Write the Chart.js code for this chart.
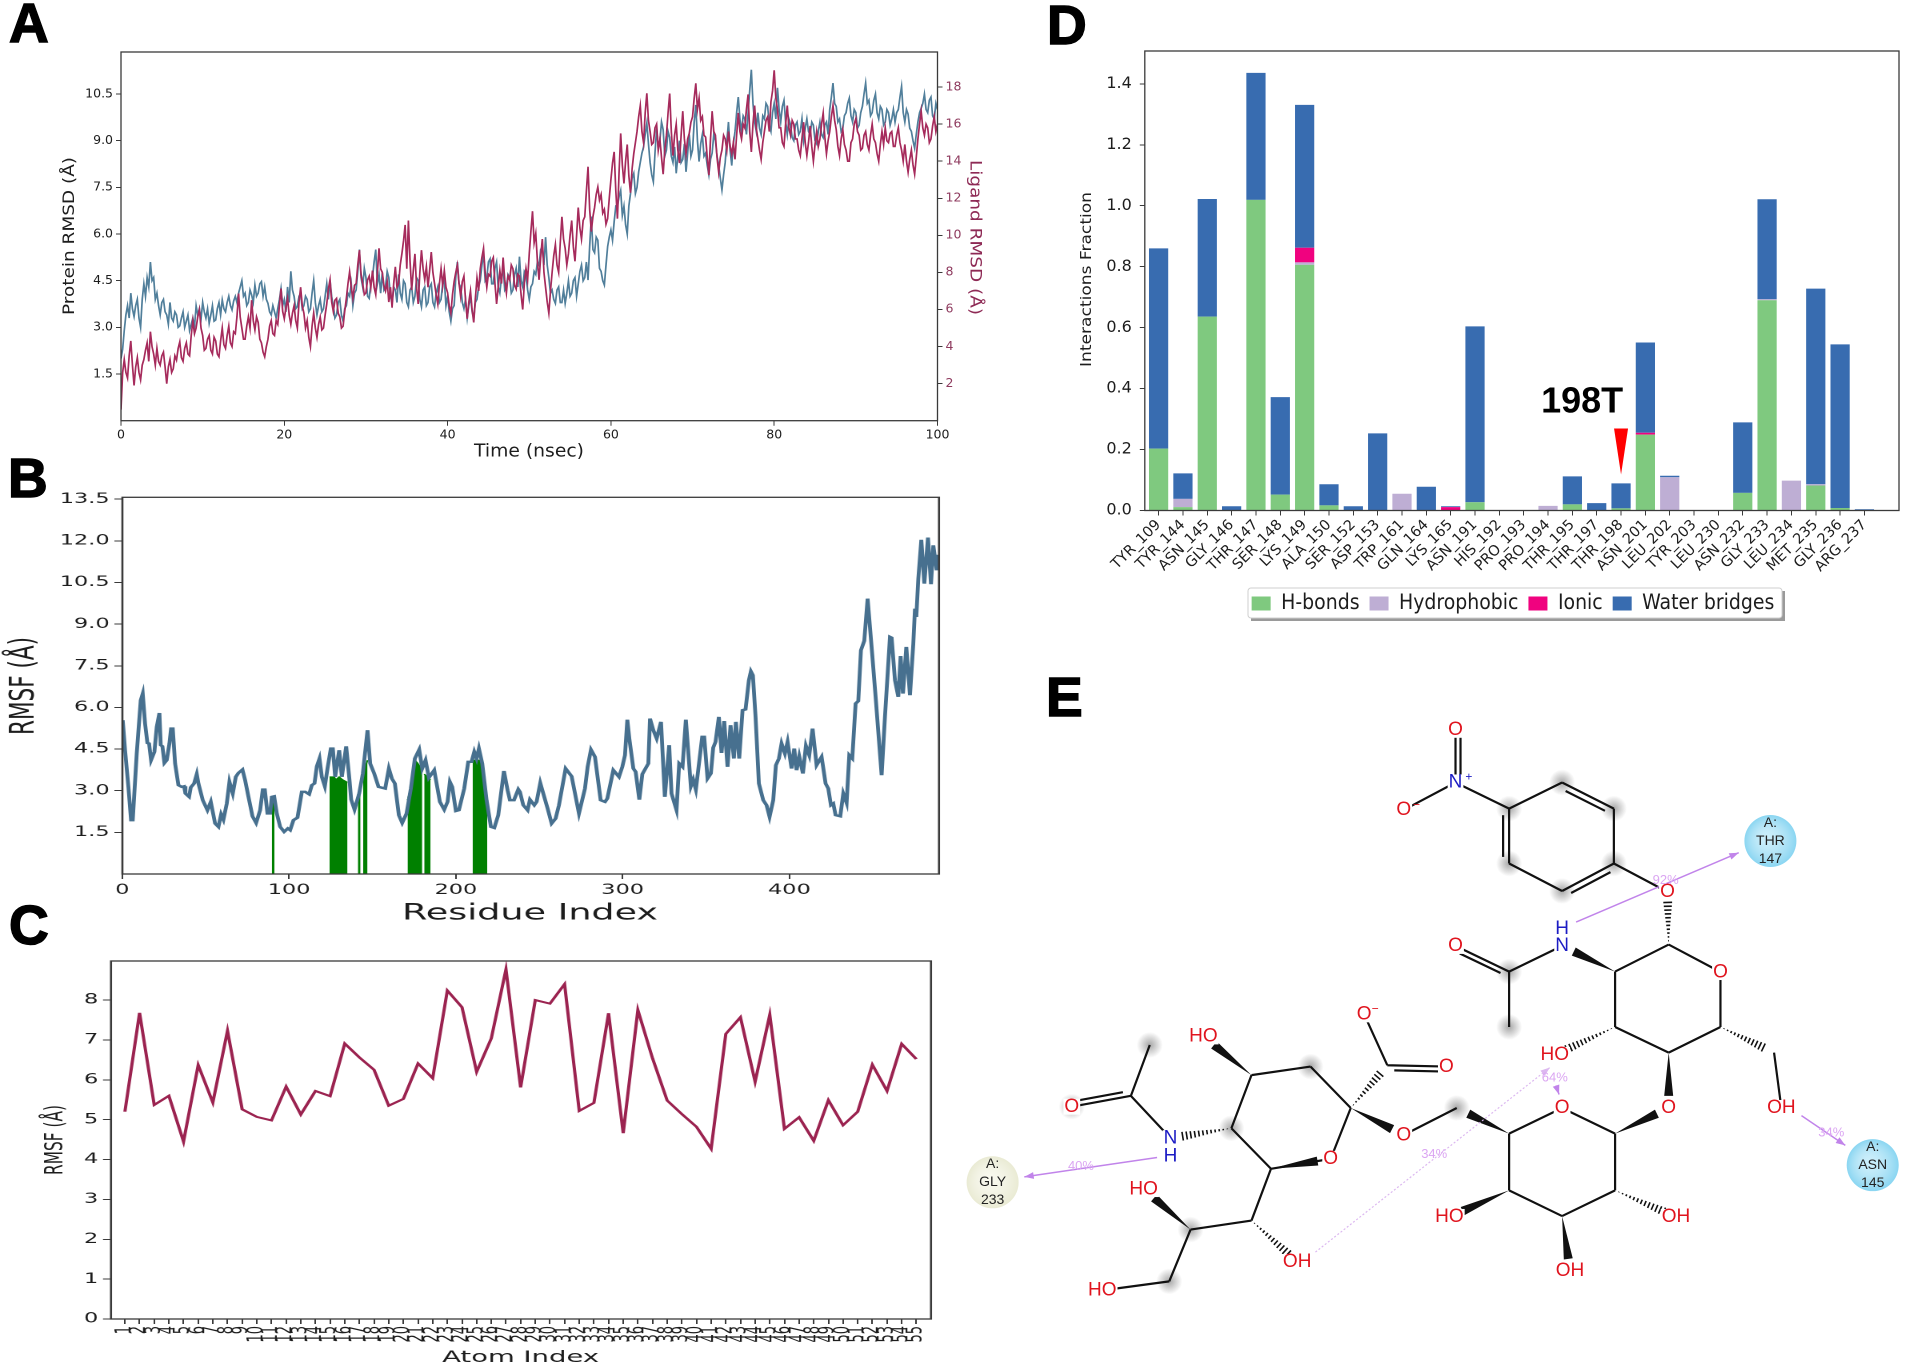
<!DOCTYPE html>
<html>
<head>
<meta charset="utf-8">
<title>RMSD, RMSF and ligand contacts</title>
<script src="https://cdn.jsdelivr.net/npm/chart.js@4"></script>
<style>
  html, body { margin: 0; background: #fff; width: 1905px; height: 1366px; overflow: hidden; }
  .panel { position: absolute; transform-origin: 0 0; }
  .letter { position: absolute; font: bold 55px/1 "Liberation Sans", sans-serif; color: #000; -webkit-text-stroke: 1.5px #000; }
</style>
</head>
<body>
<div class="letter" style="left:9px;top:-4px">A</div>
<div class="letter" style="left:8px;top:451px">B</div>
<div class="letter" style="left:9px;top:898px">C</div>
<div class="letter" style="left:1047px;top:-2px">D</div>
<div class="letter" style="left:1046px;top:670px">E</div>
<script>
// Panel A: one sample every 0.2 ns
const rmsdStepNs = 0.2;
const proteinRmsd = [
  2.0,2.3,2.9,3.4,3.7,3.3,4.1,3.6,3.35,3.7,3.9,3.3,3.0,3.9,4.4,4.0,4.6,4.3,5.1,4.5,
  4.6,3.9,4.1,3.7,3.4,3.8,3.9,3.5,3.4,3.1,3.8,3.3,3.2,3.5,3.4,3.0,3.05,3.3,3.5,3.0,
  3.2,3.4,2.9,3.1,3.3,3.0,3.7,3.4,3.6,3.25,3.8,3.5,3.3,3.6,3.13,3.4,3.7,3.2,3.24,3.6,
  3.8,3.4,3.88,3.6,3.5,3.8,4.0,3.7,3.56,3.85,4.0,3.8,4.1,4.3,4.5,4.0,4.1,3.7,3.8,4.2,
  4.04,3.8,4.36,4.0,4.1,4.4,4.47,4.0,4.3,3.9,3.77,3.5,3.4,3.7,3.5,3.3,3.6,3.9,4.25,3.7,
  3.9,3.5,4.3,3.8,4.8,4.2,4.0,3.6,3.67,4.0,4.1,3.6,3.7,4.0,3.9,3.5,3.6,4.1,4.5,3.8,
  3.4,3.7,3.9,3.5,3.6,4.0,4.4,3.9,4.5,4.0,3.7,3.3,3.4,3.8,3.9,3.4,3.2,3.6,3.7,4.1,
  4.0,4.4,3.7,4.1,4.2,4.8,5.5,4.6,4.3,4.9,4.6,4.0,3.93,4.4,4.6,5.1,5.5,4.4,4.7,4.1,
  4.75,4.2,4.3,4.8,4.6,4.0,3.77,4.3,4.2,3.8,4.7,4.1,3.9,4.5,4.4,3.8,3.66,4.2,4.3,3.8,
  4.0,4.6,4.5,3.9,3.66,4.2,4.3,3.7,3.8,4.3,4.4,3.8,3.66,4.1,4.3,3.8,3.9,4.4,4.5,3.7,
  4.0,3.5,3.2,3.6,3.7,4.6,5.1,4.4,4.3,3.8,3.6,3.9,3.3,3.7,4.0,3.5,3.3,3.8,3.9,4.3,
  4.5,5.0,5.38,4.5,4.6,5.1,5.2,4.4,4.4,4.9,5.1,4.3,4.1,4.6,4.9,4.2,4.3,4.7,4.6,4.1,
  4.2,4.7,4.9,4.3,5.27,4.5,4.3,4.8,4.7,4.2,3.9,4.3,4.4,4.8,4.7,5.1,5.0,5.5,5.6,5.0,
  5.9,5.0,4.6,4.1,4.2,3.9,3.77,4.2,4.3,3.8,3.8,4.2,3.77,4.1,4.5,4.0,4.1,4.5,4.6,4.0,
  4.4,4.8,5.0,4.5,4.6,5.1,4.52,5.6,6.56,5.5,5.4,5.9,5.8,4.9,4.8,4.5,4.36,5.0,5.6,5.9,
  6.13,5.8,6.4,6.9,6.9,7.2,7.4,6.6,6.9,6.3,6.0,6.9,7.3,7.8,7.95,7.3,7.5,8.0,8.3,8.6,
  8.8,9.2,9.56,8.9,8.3,7.9,7.68,8.6,9.4,8.8,9.0,9.6,9.35,8.5,8.7,9.3,9.1,8.5,8.3,8.8,
  7.95,8.5,9.0,8.3,8.4,8.9,8.0,8.6,9.2,8.5,8.7,9.6,10.15,9.0,8.33,8.9,9.2,8.5,8.6,8.2,
  7.9,8.4,8.6,9.2,9.0,8.5,8.2,7.8,7.42,7.9,8.3,9.0,9.6,8.7,8.2,8.9,9.3,9.9,10.4,9.7,
  9.3,9.8,9.7,9.2,9.9,10.6,11.28,10.2,9.6,9.3,9.9,9.4,9.2,9.8,9.7,10.2,10.1,9.5,9.3,9.9,
  10.2,9.7,10.7,10.0,9.6,10.1,10.3,9.6,9.2,9.7,9.5,9.1,9.0,9.5,9.6,9.2,9.3,9.7,9.0,9.4,
  9.7,9.3,9.2,9.6,9.5,9.0,8.9,9.3,9.6,9.2,9.1,9.5,9.6,9.2,10.0,10.4,10.85,10.2,10.1,9.6,
  9.7,9.3,9.4,9.8,9.9,10.2,10.37,9.8,9.6,10.0,9.9,9.4,9.5,9.9,10.1,10.5,10.85,10.2,10.3,9.8,
  9.9,10.3,10.5,9.9,9.7,10.1,10.0,9.5,9.6,10.0,9.9,9.5,9.7,10.0,9.6,9.9,10.0,10.4,10.74,9.9,
  9.6,10.0,9.85,9.4,9.3,9.0,8.76,9.2,9.6,9.9,10.04,10.2,10.5,10.0,9.9,10.3,10.4,9.8,9.7,10.2,
  10.0
];
const ligandRmsd = [
  0.6,2.6,3.3,2.6,2.3,3.5,4.3,3.0,1.9,2.9,3.4,2.6,2.2,3.0,3.3,3.8,4.2,3.2,4.8,4.0,
  3.6,3.0,3.9,3.2,3.0,3.5,3.7,2.9,2.0,2.9,3.3,2.6,2.8,3.5,3.27,3.9,4.26,3.4,3.2,3.9,
  4.2,3.6,3.5,4.6,5.4,4.7,5.0,5.6,6.0,5.0,4.6,3.8,3.9,4.4,4.6,3.8,3.6,4.5,4.3,3.6,
  3.45,4.3,5.0,4.1,3.9,4.6,5.1,4.2,4.0,4.8,4.7,5.6,6.86,5.6,5.0,4.4,4.4,5.1,5.6,5.0,
  6.5,5.4,4.9,5.6,5.3,4.4,4.2,3.7,3.45,4.0,4.4,5.1,5.4,4.7,4.6,5.4,5.2,6.2,7.13,5.9,
  5.5,6.1,6.6,5.7,5.2,5.8,6.2,5.4,5.0,6.4,7.2,6.2,5.8,5.0,5.4,4.5,4.0,5.1,5.8,5.0,
  4.5,5.2,5.6,4.9,5.0,5.7,6.3,7.1,7.6,6.4,5.9,6.5,6.6,5.8,5.6,5.0,5.1,5.9,6.6,7.4,
  8.03,7.2,6.6,7.3,7.4,8.4,9.2,7.9,7.4,6.8,6.9,7.6,7.8,7.2,8.1,7.2,6.8,8.0,9.3,8.2,
  8.0,7.3,7.0,7.5,6.4,7.2,6.1,7.4,8.3,7.2,7.4,8.4,9.0,9.7,10.56,8.2,10.8,8.6,7.05,8.1,
  9.0,7.2,6.3,8.0,9.2,8.2,7.6,8.3,7.2,8.1,9.1,8.0,7.4,6.8,6.3,7.4,8.2,7.3,8.1,7.2,
  6.9,6.2,5.8,6.8,7.5,8.0,8.4,7.4,6.7,7.5,7.8,6.5,5.5,6.4,7.0,6.0,5.3,6.6,7.7,7.0,
  8.2,8.8,9.3,8.0,7.2,7.9,7.8,8.6,8.8,7.4,6.3,7.2,8.1,7.4,8.8,7.6,6.9,7.8,7.6,8.4,
  8.2,7.3,7.1,7.9,7.8,6.8,6.0,7.4,8.2,7.6,9.0,10.2,11.3,9.6,10.1,8.6,7.6,8.8,9.8,8.0,
  7.2,6.4,5.8,7.0,8.0,8.9,9.5,8.4,8.0,9.6,11.0,9.8,9.3,8.4,9.0,10.0,10.8,9.4,8.6,10.0,
  11.5,10.4,9.8,10.8,11.0,12.4,13.7,11.4,10.2,11.0,11.5,12.2,12.6,11.9,12.2,11.2,11.4,10.6,10.9,12.0,
  13.0,13.9,14.5,12.4,10.9,13.4,15.5,13.8,12.8,14.0,14.9,13.2,12.3,13.6,14.4,15.0,15.6,16.4,17.0,15.6,
  15.0,16.6,17.66,16.2,15.6,14.9,15.0,15.8,16.0,14.6,15.2,14.2,13.3,14.6,15.4,16.6,17.65,15.6,14.3,15.4,
  16.0,14.6,13.9,15.4,16.7,15.2,14.4,15.2,15.5,16.1,16.4,17.4,18.2,16.8,17.4,16.2,16.4,15.4,15.3,14.2,
  13.25,15.2,16.7,15.6,15.4,14.2,13.4,14.2,14.6,15.4,15.2,14.6,15.6,14.8,14.4,15.0,14.1,15.4,16.6,15.6,
  15.2,16.0,15.8,16.8,17.6,15.6,14.5,16.0,17.0,15.8,15.2,14.6,14.1,15.0,15.6,16.2,16.4,15.6,17.2,17.8,
  18.9,17.4,16.8,15.8,15.8,15.0,14.8,16.0,17.0,15.8,15.4,16.2,16.0,15.2,15.2,14.6,14.3,15.2,16.1,15.0,
  14.3,15.0,15.9,14.8,14.0,14.9,15.6,14.8,15.2,16.0,16.6,15.3,14.4,15.1,15.6,16.4,17.0,16.2,15.7,14.8,
  14.3,15.2,15.7,14.9,14.6,14.0,14.0,15.0,15.2,16.0,16.3,15.6,15.4,14.6,14.7,15.4,15.6,14.9,14.6,15.4,
  16.0,15.2,15.0,14.4,14.0,14.9,15.6,14.9,15.8,15.1,15.0,15.5,15.6,14.8,14.8,15.4,15.8,15.0,14.6,14.0,
  14.9,14.0,13.4,14.1,14.6,13.8,13.3,14.2,15.2,16.0,16.7,15.8,15.4,16.0,15.8,15.0,15.2,15.9,16.4,15.6,
  16.0
];
const rmsdTimeTicks = [0, 20, 40, 60, 80, 100];
const proteinRmsdTicks = [1.5, 3.0, 4.5, 6.0, 7.5, 9.0, 10.5];
const ligandRmsdTicks = [2, 4, 6, 8, 10, 12, 14, 16, 18];

// Panel B
const rmsfResidue = [
  0.2,1.6,3.6,5.2,6.2,8.6,11,12.2,13.6,15,16,17.2,19.2,20.6,22.2,23,24,25.2,26.6,28.2,29.2,30.2,31.6,33.6,35.6,37,37.8,40,41,43,44.6,45.6,48.2,51,53,55.6,57.6,59.2,60.6,62.6,64.2,66.2,68,69.6,72,73.6,75.6,78,80.2,82.6,84.2,85.4,87,88.6,89.6,91,92.6,94.6,97,99.2,100.6,102.6,105,107.6,109.6,112,113.6,115.2,116.6,118.2,119.6,121.4,123,125,126.2,127.6,130,131.6,134.2,136.2,137.2,139.2,142,144.2,147,148.6,151,153.6,157.6,159.8,161.6,
  163.4,165.8,167.8,170.4,173,175.4,178,179.8,181.8,183.8,187,190.4,193,195,196.4,197.8,200,201.8,205,207.4,209.4,211,212.4,213.8,215.8,218.4,221,223,225.4,228.8,231,232.4,234.8,237.4,238.4,240.4,243,244.4,247,248.4,250.6,252.4,255,257.4,259.8,261.8,265.8,269.4,273.8,277.4,279,281,283.4,286.8,289.4,290.8,294.4,297.8,299.8,301.4,302.8,304,306.4,307.8,310,311.8,315.4,316.4,318.4,320.4,323,
  325.3,327.9,329.3,332.3,333.9,335.9,337.9,340.9,342.3,343.9,345.3,347.7,348.9,350.9,352.9,354.3,355.7,357.7,359.3,360.9,362.9,364.7,366.7,367.9,369.9,371.9,373.7,375.7,376.9,378.1,379.7,381.7,384.3,386.3,388.1,390.3,391.9,393.7,395.3,397.3,398.9,401.3,402.9,404.3,405.9,408.1,409.9,411.9,413.9,416.3,419.3,421.7,423.3,424.9,426.3,427.7,430.5,432.3,434.3,435.9,437.7,439.7,441.3,442.9,444.9,446.9,449.7,451.7,455.3,457.3,460.3,461.3,463.3,465.3,466.7,468.1,470.1,472.3,474.3,475.3,476.1,477.3,479.1,480.9,483.1,484.9,486.3,488.3,489
];
const rmsfValue = [
  5.54,4.46,3.14,1.94,1.94,4.34,6.26,6.5,5.42,4.72,4.7,4.1,4.4,5.3,5.8,4.64,4.6,4.0,4.1,4.7,5.24,5.24,3.98,3.2,3.14,3.16,2.9,2.78,3.12,3.26,3.6,3.26,2.66,2.3,2.6,1.82,1.7,2.15,1.96,2.54,3.32,2.9,3.5,3.64,3.76,3.38,2.78,2.08,1.84,2.3,3.04,3.04,2.18,2.18,2.78,2.8,2.18,1.7,1.52,1.64,1.58,1.94,2.03,2.96,2.96,2.87,3.2,3.26,3.88,4.16,3.5,3.16,3.8,4.52,4.52,3.5,4.46,3.5,4.6,3.38,2.68,2.32,2.9,3.62,5.18,3.98,3.62,3.14,3.08,3.8,3.44,
  3.26,2.12,1.84,2.18,3.08,4.16,4.48,3.8,4.1,3.47,3.74,2.6,2.32,2.6,3.32,3.14,2.27,2.3,3.08,4.04,4.04,4.4,4.16,4.52,3.98,2.66,1.7,1.66,2.12,3.71,3.02,2.66,2.66,3.05,2.96,2.48,2.3,2.68,2.48,2.6,3.28,2.9,2.36,1.82,2.0,2.48,3.8,3.52,2.18,3.08,3.86,4.48,4.22,2.66,2.6,2.72,3.74,3.5,3.86,4.28,5.56,4.88,3.8,3.68,2.68,3.6,3.98,5.6,5.18,4.88,5.48,
  2.78,4.64,2.9,2.3,3.98,3.86,5.56,3.16,3.4,3.04,3.74,4.94,4.94,3.44,3.62,4.55,4.76,5.66,4.36,5.51,3.86,5.36,4.16,5.48,4.16,5.9,5.93,6.98,7.3,7.16,5.66,3.26,2.66,2.48,2.06,2.66,3.92,4.16,4.7,4.34,4.76,3.8,4.52,3.74,4.24,3.62,4.62,4.28,5.24,3.92,4.22,3.26,3.08,2.48,2.54,2.12,2.08,2.9,2.56,4.28,4.16,6.14,6.23,8.06,8.4,9.92,7.88,6.38,3.56,5.66,8.54,8.51,6.98,6.38,7.85,6.5,8.18,6.44,8.3,9.56,9.26,10.64,12.04,10.46,12.12,10.44,11.84,10.94,11.5
];
// contact residues under the curve, null breaks the runs
const contactResidue = [89.6,91.2,null,124.2,127,128,130,132,135,null,141.2,142.8,null,144.4,147,null,171,173,175.4,177,179.8,null,181,184.8,null,210,214,216,218.8];
const contactHeight = [2.7,2.7,null,3.5,3.5,3.4,3.5,3.4,3.3,null,2.85,3.0,null,3.6,4.1,null,2.66,3.1,4.1,4.0,3.74,null,3.6,3.4,null,4.1,4.1,3.9,2.4];
const rmsfResidueTicks = [0, 100, 200, 300, 400];
const rmsfTicks = [1.5, 3.0, 4.5, 6.0, 7.5, 9.0, 10.5, 12.0, 13.5];

// Panel C
const atomRmsf = [5.2,7.68,5.37,5.6,4.45,6.37,5.43,7.23,5.26,5.07,4.98,5.83,5.13,5.72,5.59,6.91,6.56,6.25,5.35,5.52,6.41,6.04,8.24,7.82,6.2,7.04,8.77,5.81,8.0,7.91,8.4,5.22,5.42,7.67,4.66,7.75,6.54,5.48,5.14,4.82,4.27,7.15,7.57,5.95,7.63,4.77,5.06,4.47,5.49,4.86,5.2,6.38,5.72,6.9,6.52];
const atomRmsfTicks = [0, 1, 2, 3, 4, 5, 6, 7, 8];

// Panel D
const contactNames = ["TYR_109","TYR_144","ASN_145","GLY_146","THR_147","SER_148","LYS_149","ALA_150","SER_152","ASP_153","TRP_161","GLN_164","LYS_165","ASN_191","HIS_192","PRO_193","PRO_194","THR_195","THR_197","THR_198","ASN_201","LEU_202","TYR_203","LEU_230","ASN_232","GLY_233","LEU_234","MET_235","GLY_236","ARG_237"];
const hBonds =      [0.203,0.011,0.636,0,1.019,0.052,0.806,0.017,0,0,0,0,0,0.027,0,0,0,0.02,0,0.007,0.249,0,0,0,0.058,0.69,0,0.082,0.008,0];
const hydrophobic = [0,0.027,0,0,0,0,0.008,0,0,0,0.055,0,0,0,0,0,0.015,0,0,0,0,0.109,0,0,0,0.003,0.098,0.004,0,0];
const ionic =       [0,0,0,0,0,0,0.048,0,0,0,0,0,0.011,0,0,0,0,0,0,0,0.006,0,0,0,0,0,0,0,0,0];
const waterBridges =[0.657,0.084,0.386,0.014,0.417,0.32,0.469,0.069,0.014,0.253,0,0.078,0.003,0.577,0,0,0,0.092,0.024,0.082,0.296,0.005,0,0,0.231,0.328,0,0.642,0.537,0.004];
const contactFractionTicks = [0, 0.2, 0.4, 0.6, 0.8, 1.0, 1.2, 1.4];

// Panel E: 2D ligand sketch, node positions on its own 0-1568 grid
const molNodes = {
  nNitro:[830,272], oNitroTop:[830,155], oNitroMinus:[745,333],
  ph1:[918,330], ph2:[1005,272], ph3:[1090,330], ph4:[1090,452], ph5:[1005,513], ph6:[918,452], oLink:[1178,515],
  g1:[1180,632], gO:[1265,693], g5:[1265,815], g4:[1180,872], g3:[1092,815], g2:[1092,692],
  gN:[1005,635], gH:[1005,597], gC:[918,692], gCO:[830,635], gMe:[918,815],
  g3O:[993,877], g6:[1353,872], g6O:[1365,995], g4O:[1180,995],
  b1:[1092,1052], bO:[1005,995], b5:[918,1052], b4:[918,1178], b3:[1005,1235], b2:[1092,1178],
  b6:[832,995], b6O:[745,1055], b4O:[820,1237], b3O:[1018,1357], b2O:[1192,1237],
  s2:[658,995], sO:[625,1108], s6:[527,1130], s5:[462,1040], s4:[495,922], s3:[592,903],
  sCarb:[718,900], sOm:[680,787], sOd:[815,903], s4O:[416,836], sN:[362,1062], sH:[362,1102],
  sAc:[297,968], sAcO:[200,992], sAcMe:[328,855],
  s7:[495,1245], s7O:[570,1337], s8:[395,1265], s8O:[318,1175], s9:[360,1380], s9O:[250,1400]
};
const plainBonds = [
  ["nNitro","oNitroTop"],["nNitro","oNitroMinus"],["nNitro","ph1"],
  ["ph1","ph2"],["ph2","ph3"],["ph3","ph4"],["ph4","ph5"],["ph5","ph6"],["ph6","ph1"],["ph4","oLink"],
  ["g1","gO"],["gO","g5"],["g5","g4"],["g4","g3"],["g3","g2"],["g2","g1"],
  ["gN","gC"],["gC","gCO"],["gC","gMe"],["g6","g6O"],
  ["b1","bO"],["bO","b5"],["b5","b4"],["b4","b3"],["b3","b2"],["b2","b1"],["b6","b6O"],
  ["s2","sO"],["sO","s6"],["s6","s5"],["s5","s4"],["s4","s3"],["s3","s2"],
  ["sCarb","sOm"],["sCarb","sOd"],["sN","sAc"],["sAc","sAcO"],["sAc","sAcMe"],
  ["s6","s7"],["s7","s8"],["s8","s9"],["s9","s9O"]
];
const doubleBonds = [["nNitro","oNitroTop",5],["gC","gCO",-5],["sCarb","sOd",5],["sAc","sAcO",5],["ph2","ph3",6],["ph6","ph1",-6],["ph4","ph5",-6]];
const wedgeBonds = [["g2","gN"],["g4","g4O"],["b1","g4O"],["b5","b6"],["b4","b4O"],["b3","b3O"],["s2","b6O"],["s6","sO"],["s4","s4O"],["s8","s8O"]];
const hashBonds = [["g1","oLink"],["g3","g3O"],["g5","g6"],["b2","b2O"],["s2","sCarb"],["s5","sN"],["s7","s7O"]];
const molRed = "#e0141e", molBlue = "#1c1cc4";
const atomLabels = [
  ["nNitro","N",molBlue],["oNitroTop","O",molRed],["oNitroMinus","O",molRed],["oLink","O",molRed],["gO","O",molRed],
  ["gN","N",molBlue],["gH","H",molBlue],["gCO","O",molRed],["g3O","HO",molRed],["g6O","OH",molRed],["g4O","O",molRed],
  ["bO","O",molRed],["b6O","O",molRed],["b4O","HO",molRed],["b3O","OH",molRed],["b2O","OH",molRed],
  ["sO","O",molRed],["sOm","O",molRed],["sOd","O",molRed],["s4O","HO",molRed],["sN","N",molBlue],["sH","H",molBlue],["sAcO","O",molRed],
  ["s7O","OH",molRed],["s8O","HO",molRed],["s9O","HO",molRed]
];
const chargeLabels = [["+",852,260,molBlue],["\u2212",766,322,molRed],["\u2212",698,775,molRed]];
const haloNodes = ["ph2","ph3","ph4","ph5","ph6","ph1","gMe","sAcMe","sAcO","s3","s9","s5","gC","b6","s8"];
const hbondArrows = [[1028,582,1295,428,false],[340,1105,122,1148,false],[1398,1012,1470,1078,false],[600,1315,985,905,true],[995,945,1000,965,false]];
const hbondPercents = [["92%",1175,490],["40%",215,1125],["34%",1447,1050],["34%",795,1098],["64%",993,928]];
const residueSpots = [[1347,402],[1515,1122],[70,1160]];
const residueLines = [["A:","THR","147"],["A:","ASN","145"],["A:","GLY","233"]];
const residueRims = ["#8ad6f2", "#8ad6f2", "#eaeBd4"];
const residueGlows = ["rgba(206,240,252,0.95)", "rgba(206,240,252,0.95)", "rgba(250,250,240,0.95)"];

const sans = '"DejaVu Sans", sans-serif';
const inkColor = "#1d1d1d";
const spineColor = "#3a3a3a";
const ligandColor = "#a62b5c";

function makeTicks(values) {
  return function (scale) { scale.ticks = values.map(v => ({ value: v })); };
}

function spineGrid() {
  return { display: true, drawOnChartArea: false, drawTicks: true, tickLength: 5, color: spineColor, lineWidth: 1, offset: false };
}

// Places a canvas so the plot area lands on the given page box. stretch widens it sideways.
function makePanel(p) {
  const k = p.stretch || 1;
  const wrap = document.createElement("div");
  wrap.className = "panel";
  wrap.style.left = p.page.left + "px";
  wrap.style.top = p.page.top + "px";
  wrap.style.transform = "scaleX(" + k + ")";
  const canvas = document.createElement("canvas");
  canvas.width = Math.round(p.page.width / k);
  canvas.height = p.page.height;
  wrap.appendChild(canvas);
  document.body.appendChild(wrap);
  return {
    canvas,
    k,
    margins: {
      left: (p.plot.left - p.page.left) / k,
      right: (p.page.left + p.page.width - p.plot.right) / k,
      top: p.plot.top - p.page.top,
      bottom: p.page.top + p.page.height - p.plot.bottom
    },
    page: p.page
  };
}

// Axis titles and frame, titles are fitted to the length they have in the picture
function framePlugin(panel, titles) {
  return {
    id: "frameAndTitles",
    afterDraw(chart) {
      const ctx = chart.ctx, a = chart.chartArea;
      ctx.save();
      ctx.strokeStyle = spineColor;
      ctx.lineWidth = 1.3;
      ctx.strokeRect(a.left, a.top, a.right - a.left, a.bottom - a.top);
      titles.forEach(t => {
        ctx.save();
        ctx.font = t.size + "px " + sans;
        ctx.fillStyle = t.color || inkColor;
        ctx.textAlign = "center";
        ctx.textBaseline = "middle";
        ctx.translate((t.x - panel.page.left) / panel.k, t.y - panel.page.top);
        ctx.rotate((t.rot || 0) * Math.PI / 180);
        const target = t.rot ? t.len : t.len / panel.k;
        ctx.scale(target / ctx.measureText(t.text).width, 1);
        ctx.fillText(t.text, 0, 0);
        ctx.restore();
      });
      ctx.restore();
    }
  };
}

// A: protein and ligand RMSD
const panelA = makePanel({ page: { left: 30, top: 40, width: 970, height: 430 }, plot: { left: 121, top: 52, right: 937.5, bottom: 420.7 } });
new Chart(panelA.canvas, {
  type: "line",
  data: {
    datasets: [
      { label: "Protein RMSD", data: proteinRmsd.map((v, i) => ({ x: i * rmsdStepNs, y: v })), yAxisID: "y", borderColor: "#517f9b", borderWidth: 1.7, pointRadius: 0, order: 2 },
      { label: "Ligand RMSD", data: ligandRmsd.map((v, i) => ({ x: i * rmsdStepNs, y: v })), yAxisID: "y2", borderColor: ligandColor, borderWidth: 1.7, pointRadius: 0, order: 1 }
    ]
  },
  options: {
    responsive: false, animation: false, devicePixelRatio: 2,
    layout: { padding: { top: panelA.margins.top, right: 0, left: 0, bottom: 0 } },
    plugins: { legend: { display: false }, tooltip: { enabled: false } },
    scales: {
      x: {
        type: "linear", min: 0, max: 100, grid: spineGrid(), border: { display: false },
        afterBuildTicks: makeTicks(rmsdTimeTicks),
        afterFit: s => { s.height = panelA.margins.bottom; },
        ticks: { color: inkColor, font: { family: sans, size: 12.5 }, padding: 2, maxRotation: 0 }
      },
      y: {
        min: 0, max: 11.85, grid: spineGrid(), border: { display: false },
        afterBuildTicks: makeTicks(proteinRmsdTicks),
        afterFit: s => { s.width = panelA.margins.left; },
        ticks: { color: inkColor, font: { family: sans, size: 12.5 }, padding: 3, callback: v => v.toFixed(1) }
      },
      y2: {
        position: "right", min: 0, max: 19.89, grid: spineGrid(), border: { display: false },
        afterBuildTicks: makeTicks(ligandRmsdTicks),
        afterFit: s => { s.width = panelA.margins.right; },
        ticks: { color: "#8e3a5e", font: { family: sans, size: 12.5 }, padding: 3 }
      }
    }
  },
  plugins: [framePlugin(panelA, [
    { text: "Protein RMSD (\u00c5)", x: 70, y: 236, rot: -90, size: 16, len: 158 },
    { text: "Ligand RMSD (\u00c5)", x: 974.5, y: 237.5, rot: 90, size: 16, len: 155, color: "#8e2a55" },
    { text: "Time (nsec)", x: 529, y: 452, size: 18, len: 110 }
  ])]
});

// B: protein RMSF with the contact residues in green
const panelB = makePanel({ stretch: 1.6, page: { left: 0, top: 475, width: 1000, height: 465 }, plot: { left: 122.4, top: 497.3, right: 939, bottom: 874 } });
new Chart(panelB.canvas, {
  type: "line",
  data: {
    datasets: [
      { label: "RMSF", data: rmsfResidue.map((r, i) => ({ x: r, y: rmsfValue[i] })), borderColor: "#47708f", borderWidth: 2.4, pointRadius: 0, order: 1 },
      { label: "Contacts", data: contactResidue.map((r, i) => ({ x: r, y: contactHeight[i] })), borderColor: "#008000", backgroundColor: "#008000", borderWidth: 1, pointRadius: 0, fill: "origin", spanGaps: false, order: 2 }
    ]
  },
  options: {
    responsive: false, animation: false, devicePixelRatio: 2,
    layout: { padding: { top: panelB.margins.top, right: panelB.margins.right, left: 0, bottom: 0 } },
    plugins: { legend: { display: false }, tooltip: { enabled: false } },
    scales: {
      x: {
        type: "linear", min: 0, max: 489.7, grid: spineGrid(), border: { display: false },
        afterBuildTicks: makeTicks(rmsfResidueTicks),
        afterFit: s => { s.height = panelB.margins.bottom; },
        ticks: { color: inkColor, font: { family: sans, size: 14 }, padding: 3, maxRotation: 0 }
      },
      y: {
        min: 0, max: 13.57, grid: spineGrid(), border: { display: false },
        afterBuildTicks: makeTicks(rmsfTicks),
        afterFit: s => { s.width = panelB.margins.left; },
        ticks: { color: inkColor, font: { family: sans, size: 14 }, padding: 3, callback: v => v.toFixed(1) }
      }
    }
  },
  plugins: [framePlugin(panelB, [
    { text: "RMSF (\u00c5)", x: 25, y: 686, rot: -90, size: 21, len: 98 },
    { text: "Residue Index", x: 530, y: 914, size: 22, len: 256 }
  ])]
});

// C: ligand atom RMSF
const panelC = makePanel({ stretch: 1.6, page: { left: 0, top: 945, width: 1000, height: 421 }, plot: { left: 111, top: 961, right: 931, bottom: 1319 } });
new Chart(panelC.canvas, {
  type: "line",
  data: {
    datasets: [
      { label: "RMSF", data: atomRmsf.map((v, i) => ({ x: i + 1, y: v })), borderColor: "#9b2350", borderWidth: 2, pointRadius: 0 }
    ]
  },
  options: {
    responsive: false, animation: false, devicePixelRatio: 2,
    layout: { padding: { top: panelC.margins.top, right: panelC.margins.right, left: 0, bottom: 0 } },
    plugins: { legend: { display: false }, tooltip: { enabled: false } },
    scales: {
      x: {
        type: "linear", min: 0.05, max: 56, grid: spineGrid(), border: { display: false },
        afterBuildTicks: makeTicks(atomRmsf.map((v, i) => i + 1)),
        afterFit: s => { s.height = panelC.margins.bottom; },
        ticks: { color: inkColor, font: { family: sans, size: 13 }, padding: 2, autoSkip: false, minRotation: 90, maxRotation: 90 }
      },
      y: {
        min: 0, max: 8.98, grid: spineGrid(), border: { display: false },
        afterBuildTicks: makeTicks(atomRmsfTicks),
        afterFit: s => { s.width = panelC.margins.left; },
        ticks: { color: inkColor, font: { family: sans, size: 14 }, padding: 3 }
      }
    }
  },
  plugins: [framePlugin(panelC, [
    { text: "RMSF (\u00c5)", x: 56, y: 1140, rot: -90, size: 16, len: 70 },
    { text: "Atom Index", x: 520.6, y: 1357.7, size: 16, len: 157 }
  ])]
});

// D: protein-ligand contacts, stacked. The blank right axis keeps the legend centred on the canvas.
const marker198 = { label: "198T", labelAt: 17.4, labelValue: 0.354, at: 19, top: 0.269, tip: 0.118 };
const legendFrame = { left: 1248, top: 588, right: 1782, bottom: 618 };
const panelD = makePanel({ page: { left: 1080, top: 30, width: 866, height: 594 }, plot: { left: 1144.8, top: 51, right: 1899, bottom: 508.6 } });
const stackedSeries = [
  { label: "H-bonds", values: hBonds, color: "#7fc97f" },
  { label: "Hydrophobic", values: hydrophobic, color: "#beaed4" },
  { label: "Ionic", values: ionic, color: "#f0027f" },
  { label: "Water bridges", values: waterBridges, color: "#386cb0" }
];
new Chart(panelD.canvas, {
  type: "bar",
  data: {
    datasets: stackedSeries.map(s => ({
      label: s.label,
      data: s.values.map((v, i) => ({ x: i, y: v })),
      backgroundColor: s.color,
      categoryPercentage: 1,
      barPercentage: 0.79
    }))
  },
  options: {
    responsive: false, animation: false, devicePixelRatio: 2,
    layout: { padding: { top: panelD.margins.top, right: 0, left: 0, bottom: 0 } },
    plugins: {
      tooltip: { enabled: false },
      legend: {
        position: "bottom",
        labels: { color: inkColor, font: { family: '"DejaVu Sans Condensed", "DejaVu Sans", sans-serif', size: 21 }, boxWidth: 19, boxHeight: 14, padding: 10 }
      }
    },
    scales: {
      x: {
        type: "linear", stacked: true, offset: false, min: -0.567, max: 30.42, grid: spineGrid(), border: { display: false },
        afterBuildTicks: makeTicks(contactNames.map((n, i) => i)),
        afterFit: s => { s.height = 72.5; },
        ticks: { color: inkColor, font: { family: sans, size: 14.5 }, padding: 1, autoSkip: false, minRotation: 45, maxRotation: 45, callback: v => contactNames[v] }
      },
      y: {
        stacked: true, min: 0, max: 1.5076, grid: spineGrid(), border: { display: false },
        afterBuildTicks: makeTicks(contactFractionTicks),
        afterFit: s => { s.width = panelD.margins.left; },
        ticks: { color: inkColor, font: { family: sans, size: 16 }, padding: 8, callback: v => v.toFixed(1) }
      },
      yBlank: {
        position: "right", min: 0, max: 1, grid: { display: false }, border: { display: false },
        ticks: { display: false },
        afterFit: s => { s.width = panelD.margins.right; }
      }
    }
  },
  plugins: [
    framePlugin(panelD, [
      { text: "Interactions Fraction", x: 1087, y: 279.5, rot: -90, size: 15, len: 175 }
    ]),
    {
      id: "marker198",
      beforeDraw(chart) {
        const ctx = chart.ctx, f = legendFrame, ox = panelD.page.left, oy = panelD.page.top;
        ctx.save();
        ctx.fillStyle = "#9a9a9a";
        ctx.fillRect(f.left - ox + 3, f.top - oy + 3, f.right - f.left, f.bottom - f.top);
        ctx.fillStyle = "#fff";
        ctx.strokeStyle = "#cfcfcf";
        ctx.beginPath();
        ctx.roundRect(f.left - ox, f.top - oy, f.right - f.left, f.bottom - f.top, 3);
        ctx.fill();
        ctx.stroke();
        ctx.restore();
      },
      afterDraw(chart) {
        const ctx = chart.ctx, x = chart.scales.x, y = chart.scales.y, m = marker198;
        const px = x.getPixelForValue(m.at);
        ctx.save();
        ctx.fillStyle = "#ff0000";
        ctx.beginPath();
        ctx.moveTo(px - 7, y.getPixelForValue(m.top));
        ctx.lineTo(px + 7, y.getPixelForValue(m.top));
        ctx.lineTo(px, y.getPixelForValue(m.tip));
        ctx.closePath();
        ctx.fill();
        ctx.fillStyle = "#000";
        ctx.font = 'bold 36px "Liberation Sans", sans-serif';
        ctx.textAlign = "center";
        ctx.textBaseline = "middle";
        ctx.fillText(m.label, x.getPixelForValue(m.labelAt), y.getPixelForValue(m.labelValue));
        ctx.restore();
      }
    }
  ]
});

// E: ligand interaction diagram
const panelE = makePanel({ page: { left: 950, top: 660, width: 955, height: 706 }, plot: { left: 950, top: 660, right: 1905, bottom: 1366 } });
const bondPath = [];
plainBonds.forEach(b => {
  bondPath.push({ x: molNodes[b[0]][0], y: molNodes[b[0]][1] }, { x: molNodes[b[1]][0], y: molNodes[b[1]][1] }, { x: null, y: null });
});
new Chart(panelE.canvas, {
  type: "scatter",
  data: {
    datasets: [
      { label: "Bonds", data: bondPath, showLine: true, spanGaps: false, borderColor: "#111", borderWidth: 2.2, pointRadius: 0, order: 2 },
      { label: "Residues", data: residueSpots.map(s => ({ x: s[0], y: s[1] })), pointRadius: 26, borderWidth: 0, backgroundColor: residueRims, order: 1 }
    ]
  },
  options: {
    responsive: false, animation: false, devicePixelRatio: 2,
    layout: { autoPadding: false },
    plugins: { legend: { display: false }, tooltip: { enabled: false } },
    scales: {
      x: { type: "linear", display: false, min: 0, max: 1568 },
      y: { type: "linear", display: false, min: 0, max: 1568, reverse: true }
    }
  },
  plugins: [{
    id: "molecule",
    beforeDatasetsDraw(chart) {
      const ctx = chart.ctx, sx = chart.scales.x, sy = chart.scales.y;
      haloNodes.forEach(id => {
        const px = sx.getPixelForValue(molNodes[id][0]), py = sy.getPixelForValue(molNodes[id][1]);
        const grad = ctx.createRadialGradient(px, py, 1, px, py, 13);
        grad.addColorStop(0, "rgba(120,120,120,0.6)");
        grad.addColorStop(1, "rgba(120,120,120,0)");
        ctx.fillStyle = grad;
        ctx.beginPath();
        ctx.arc(px, py, 13, 0, Math.PI * 2);
        ctx.fill();
      });
    },
    afterDatasetsDraw(chart) {
      const ctx = chart.ctx, sx = chart.scales.x, sy = chart.scales.y;
      const pt = id => [sx.getPixelForValue(molNodes[id][0]), sy.getPixelForValue(molNodes[id][1])];
      const at = (x, y) => [sx.getPixelForValue(x), sy.getPixelForValue(y)];
      ctx.save();

      residueSpots.forEach((s, i) => {
        const p = at(s[0], s[1]);
        const grad = ctx.createRadialGradient(p[0] - 4, p[1] - 4, 2, p[0], p[1], 26);
        grad.addColorStop(0, residueGlows[i]);
        grad.addColorStop(1, "rgba(255,255,255,0)");
        ctx.fillStyle = grad;
        ctx.beginPath();
        ctx.arc(p[0], p[1], 26, 0, Math.PI * 2);
        ctx.fill();
      });

      ctx.strokeStyle = "#111";
      ctx.fillStyle = "#111";
      ctx.lineWidth = 2.2;
      doubleBonds.forEach(b => {
        const p = pt(b[0]), q = pt(b[1]), dx = q[0] - p[0], dy = q[1] - p[1], len = Math.hypot(dx, dy);
        const ox = -dy / len * b[2], oy = dx / len * b[2];
        ctx.beginPath();
        ctx.moveTo(p[0] + dx * 0.12 + ox, p[1] + dy * 0.12 + oy);
        ctx.lineTo(q[0] - dx * 0.12 + ox, q[1] - dy * 0.12 + oy);
        ctx.stroke();
      });

      wedgeBonds.forEach(b => {
        const p = pt(b[0]), q = pt(b[1]), dx = q[0] - p[0], dy = q[1] - p[1], len = Math.hypot(dx, dy);
        const ex = p[0] + dx * 0.78, ey = p[1] + dy * 0.78, ox = -dy / len * 4.5, oy = dx / len * 4.5;
        ctx.beginPath();
        ctx.moveTo(p[0], p[1]);
        ctx.lineTo(ex + ox, ey + oy);
        ctx.lineTo(ex - ox, ey - oy);
        ctx.closePath();
        ctx.fill();
      });

      ctx.lineWidth = 1.6;
      hashBonds.forEach(b => {
        const p = pt(b[0]), q = pt(b[1]), dx = q[0] - p[0], dy = q[1] - p[1], len = Math.hypot(dx, dy);
        const steps = Math.round(len / 5);
        for (let i = 1; i <= steps; i++) {
          const f = i / steps * 0.8, half = f * 5.5;
          const cx = p[0] + dx * f, cy = p[1] + dy * f, ox = -dy / len * half, oy = dx / len * half;
          ctx.beginPath();
          ctx.moveTo(cx + ox, cy + oy);
          ctx.lineTo(cx - ox, cy - oy);
          ctx.stroke();
        }
      });

      hbondArrows.forEach(a => {
        const p = at(a[0], a[1]), q = at(a[2], a[3]), ang = Math.atan2(q[1] - p[1], q[0] - p[0]);
        ctx.strokeStyle = a[4] ? "#dcb8f0" : "#c184ea";
        ctx.fillStyle = ctx.strokeStyle;
        ctx.lineWidth = a[4] ? 1.2 : 1.5;
        ctx.setLineDash(a[4] ? [2, 2] : []);
        ctx.beginPath();
        ctx.moveTo(p[0], p[1]);
        ctx.lineTo(q[0], q[1]);
        ctx.stroke();
        ctx.setLineDash([]);
        ctx.beginPath();
        ctx.moveTo(q[0], q[1]);
        ctx.lineTo(q[0] - 10 * Math.cos(ang - 0.35), q[1] - 10 * Math.sin(ang - 0.35));
        ctx.lineTo(q[0] - 10 * Math.cos(ang + 0.35), q[1] - 10 * Math.sin(ang + 0.35));
        ctx.closePath();
        ctx.fill();
      });

      ctx.textAlign = "center";
      ctx.textBaseline = "middle";
      ctx.font = '19px "Liberation Sans", sans-serif';
      atomLabels.forEach(l => {
        const p = pt(l[0]), w = ctx.measureText(l[1]).width;
        ctx.fillStyle = "#fff";
        ctx.fillRect(p[0] - w / 2 - 1, p[1] - 8, w + 2, 16);
        ctx.fillStyle = l[2];
        ctx.fillText(l[1], p[0], p[1]);
      });
      ctx.font = '12px "Liberation Sans", sans-serif';
      chargeLabels.forEach(l => {
        const p = at(l[1], l[2]);
        ctx.fillStyle = l[3];
        ctx.fillText(l[0], p[0], p[1]);
      });
      ctx.font = '13px "Liberation Sans", sans-serif';
      ctx.fillStyle = "#dba6f2";
      hbondPercents.forEach(l => {
        const p = at(l[1], l[2]);
        ctx.fillText(l[0], p[0], p[1]);
      });
      ctx.font = '14px "Liberation Sans Narrow", "Liberation Sans", sans-serif';
      ctx.fillStyle = "#222";
      residueSpots.forEach((s, i) => {
        const p = at(s[0], s[1]);
        residueLines[i].forEach((line, n) => ctx.fillText(line, p[0], p[1] + (n - 1) * 18));
      });
      ctx.restore();
    }
  }]
});
</script>
</body>
</html>
